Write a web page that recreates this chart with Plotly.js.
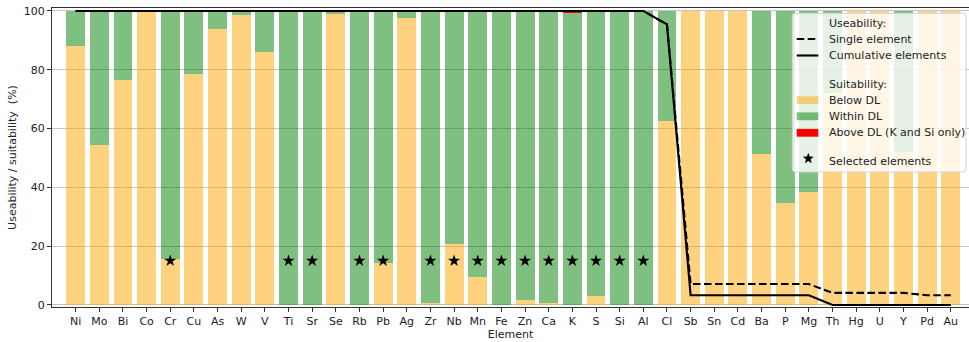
<!DOCTYPE html>
<html>
<head>
<meta charset="utf-8">
<script src="https://cdn.plot.ly/plotly-3.0.1.min.js"></script>
<style>
  html, body { margin: 0; padding: 0; background: #ffffff; }
  #chart { width: 969px; height: 342px; }
</style>
</head>
<body>
<div id="chart"></div>
<script>
// Elements in plotting order
const elements = ['Ni','Mo','Bi','Co','Cr','Cu','As','W','V','Ti','Sr','Se','Rb','Pb','Ag','Zr','Nb','Mn','Fe','Zn','Ca','K','S','Si','Al','Cl','Sb','Sn','Cd','Ba','P','Mg','Th','Hg','U','Y','Pd','Au'];

// Suitability shares (%) per element
const belowDL  = [88, 54.5, 76.5, 99.6, 15.5, 78.6, 93.7, 98.7, 85.9, 0, 0, 98.9, 0, 14.3, 97.5, 0.5, 20.7, 9.5, 0, 1.8, 0.5, 0, 3.0, 0, 0, 62.7, 100, 100, 100, 51.4, 34.8, 38.3, 72, 100, 100, 52, 100, 100];
const withinDL = [12, 45.5, 23.5, 0.4, 84.5, 21.4, 6.3, 1.3, 14.1, 100, 100, 1.1, 100, 85.7, 2.5, 99.5, 79.3, 90.5, 100, 98.2, 99.5, 99.2, 97.0, 99.8, 100, 37.3, 0, 0, 0, 48.6, 65.2, 61.7, 28, 0, 0, 48, 0, 0];
const aboveDL  = [0, 0, 0, 0, 0, 0, 0, 0, 0, 0, 0, 0, 0, 0, 0, 0, 0, 0, 0, 0, 0, 0.8, 0, 0.2, 0, 0, 0, 0, 0, 0, 0, 0, 0, 0, 0, 0, 0, 0];

// Useability (%) of the data set
const singleUse     = [100, 100, 100, 100, 100, 100, 100, 100, 100, 100, 100, 100, 100, 100, 100, 100, 100, 100, 100, 100, 100, 100, 100, 100, 100, 95.4, 7.1, 7.1, 7.1, 7.1, 7.1, 7.1, 4.1, 4.1, 4.1, 4.1, 3.3, 3.3];
const cumulativeUse = [100, 100, 100, 100, 100, 100, 100, 100, 100, 100, 100, 100, 100, 100, 100, 100, 100, 100, 100, 100, 100, 100, 100, 100, 100, 95.4, 3.3, 3.3, 3.3, 3.3, 3.3, 3.3, 0, 0, 0, 0, 0, 0];

// Elements retained for further analysis, marked by a star
const selected = ['Cr','Ti','Sr','Rb','Pb','Zr','Nb','Mn','Fe','Zn','Ca','K','S','Si','Al'];
const selectedMarkerLevel = [15, 15, 15, 15, 15, 15, 15, 15, 15, 15, 15, 15, 15, 15, 15];

const FONT = 'DejaVu Sans, Liberation Sans, sans-serif';
const TXT = '#222222';
const ORANGE = 'rgba(255,165,0,0.5)';
const GREEN = 'rgba(0,128,0,0.5)';
const RED = '#ff0000';

const W = 969, H = 342;
const M = { l: 52, r: 0, t: 8, b: 35 };
const PW = W - M.l - M.r, PH = H - M.t - M.b;
// pixel -> paper helpers for the hand-built key
const px = x => (x - M.l) / PW;
const py = y => (M.t + PH - y) / PH;

const traces = [
  { type: 'bar', x: elements, y: belowDL, name: 'Below DL',
    marker: { color: ORANGE, line: { width: 0 } }, hoverinfo: 'skip' },
  { type: 'bar', x: elements, y: withinDL, name: 'Within DL',
    marker: { color: GREEN, line: { width: 0 } }, hoverinfo: 'skip' },
  { type: 'bar', x: elements, y: aboveDL, name: 'Above DL (K and Si only)',
    marker: { color: RED, line: { width: 0 } }, hoverinfo: 'skip' },
  { type: 'scatter', mode: 'lines', x: elements, y: singleUse, name: 'Single element',
    line: { color: '#000', width: 2.1, dash: '7.5px,3.5px' }, hoverinfo: 'skip' },
  { type: 'scatter', mode: 'lines', x: elements, y: cumulativeUse, name: 'Cumulative elements',
    line: { color: '#000', width: 2.1 }, hoverinfo: 'skip' },
  { type: 'scatter', mode: 'markers', x: selected, y: selectedMarkerLevel, name: 'Selected elements',
    marker: { symbol: 'star', size: 9.2, color: '#000', line: { width: 0 } }, hoverinfo: 'skip' }
];

// ---- key (legend) drawn as shapes + annotations ----
const shapes = [];
const annotations = [];

// rounded translucent box
(function () {
  const x0 = 792.3, x1 = 966, y0 = 13.3, y1 = 172, r = 3;
  const p = (x, y) => px(x).toFixed(5) + ',' + py(y).toFixed(5);
  const path = 'M' + p(x0 + r, y0) + ' L' + p(x1 - r, y0) + ' Q' + p(x1, y0) + ' ' + p(x1, y0 + r) +
    ' L' + p(x1, y1 - r) + ' Q' + p(x1, y1) + ' ' + p(x1 - r, y1) +
    ' L' + p(x0 + r, y1) + ' Q' + p(x0, y1) + ' ' + p(x0, y1 - r) +
    ' L' + p(x0, y0 + r) + ' Q' + p(x0, y0) + ' ' + p(x0 + r, y0) + ' Z';
  shapes.push({ type: 'path', xref: 'paper', yref: 'paper', path: path, layer: 'above',
    fillcolor: 'rgba(255,255,255,0.8)', line: { color: '#d3d3d3', width: 1 } });
})();

const hx0 = 796.7, hx1 = 818.3;
shapes.push({ type: 'line', xref: 'paper', yref: 'paper', layer: 'above',
  x0: px(hx0), x1: px(hx1), y0: py(39), y1: py(39), line: { color: '#000', width: 2.1, dash: '7.5px,3.5px' } });
shapes.push({ type: 'line', xref: 'paper', yref: 'paper', layer: 'above',
  x0: px(hx0), x1: px(hx1), y0: py(55.5), y1: py(55.5), line: { color: '#000', width: 2.1 } });
[[100.2, ORANGE], [116.3, GREEN], [132.8, RED]].forEach(([cy, col]) => {
  shapes.push({ type: 'rect', xref: 'paper', yref: 'paper', layer: 'above',
    x0: px(hx0), x1: px(hx1), y0: py(cy - 3.9), y1: py(cy + 3.9), fillcolor: col, line: { width: 0 } });
});
// five-pointed star handle
(function () {
  const cx = 808.3, cy = 158.5, ro = 5.8, ri = 2.4;
  let d = '';
  for (let i = 0; i < 10; i++) {
    const rr = i % 2 === 0 ? ro : ri;
    const a = -Math.PI / 2 + i * Math.PI / 5;
    const x = cx + rr * Math.cos(a), y = cy + rr * Math.sin(a);
    d += (i === 0 ? 'M' : ' L') + px(x).toFixed(5) + ',' + py(y).toFixed(5);
  }
  shapes.push({ type: 'path', xref: 'paper', yref: 'paper', layer: 'above', path: d + ' Z',
    fillcolor: '#000', line: { width: 0 } });
})();

[['Useability:', 23.3], ['Single element', 39.2], ['Cumulative elements', 55.6],
 ['Suitability:', 84.3], ['Below DL', 100.3], ['Within DL', 116.3],
 ['Above DL (K and Si only)', 132.8], ['Selected elements', 161.3]].forEach(([t, cy]) => {
  annotations.push({ xref: 'paper', yref: 'paper', x: px(826.5), y: py(cy), text: t,
    xanchor: 'left', yanchor: 'middle', showarrow: false,
    font: { family: FONT, size: 11, color: TXT } });
});

const layout = {
  width: W, height: H,
  margin: M,
  paper_bgcolor: '#ffffff', plot_bgcolor: '#ffffff',
  barmode: 'stack', bargap: 0.2,
  showlegend: false,
  font: { family: FONT, size: 11, color: TXT },
  xaxis: {
    type: 'category', range: [-1, 37.77], tickmode: 'linear', tick0: 0, dtick: 1,
    ticks: 'outside', ticklen: 4, tickwidth: 1, tickcolor: '#333',
    showline: true, linecolor: '#333', linewidth: 1, mirror: true,
    showgrid: false, zeroline: false,
    tickfont: { family: FONT, size: 11, color: TXT },
    title: { text: 'Element', font: { family: FONT, size: 11, color: TXT }, standoff: 3 }
  },
  yaxis: {
    range: [-0.7, 101], tickmode: 'array', tickvals: [0, 20, 40, 60, 80, 100],
    ticks: 'outside', ticklen: 4, tickwidth: 1, tickcolor: '#333',
    showline: true, linecolor: '#333', linewidth: 1, mirror: false,
    showgrid: true, gridcolor: '#c4c4c4', gridwidth: 1, zeroline: false,
    tickfont: { family: FONT, size: 11, color: TXT },
    title: { text: 'Useability / suitability\u00a0 (%)', font: { family: FONT, size: 11, color: TXT }, standoff: 4 }
  },
  shapes: shapes,
  annotations: annotations
};

Plotly.newPlot('chart', traces, layout, { displayModeBar: false, staticPlot: true });
</script>
</body>
</html>
